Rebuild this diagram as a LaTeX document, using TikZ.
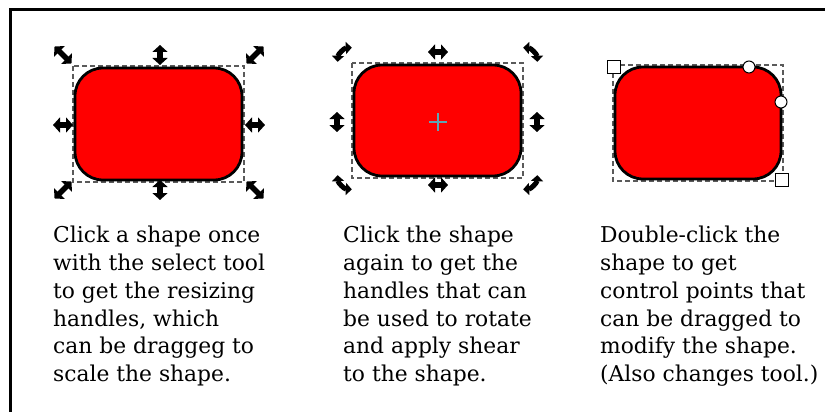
\documentclass[tikz,border=0pt]{standalone}
\usepackage{fontspec}
\setmainfont{DejaVu Serif}
\usetikzlibrary{arrows.meta}
\definecolor{crossc}{RGB}{95,165,180}
\definecolor{bboxc}{RGB}{90,90,90}
\tikzset{
  shapebox/.style={fill=red,draw=black,line width=2.8pt,rounded corners=28pt},
  selbox/.style={draw=bboxc,line width=1.2pt,dash pattern=on 5pt off 3pt},
  scalehandle/.style={line width=5.5pt,{Triangle[width=15pt,length=7pt]}-{Triangle[width=15pt,length=7pt]}},
  rothandle/.style={line width=5pt,{Triangle[width=12pt,length=6pt]}-{Triangle[width=12pt,length=6pt]}},
  ctrlsq/.style={draw=black,fill=white,line width=1pt,minimum size=13pt,inner sep=0pt,rectangle},
  ctrlci/.style={draw=black,fill=white,line width=1pt,minimum size=12pt,inner sep=0pt,circle},
  caption/.style={align=left,anchor=north west,inner sep=0pt,font=\fontsize{21.8}{27.8}\selectfont}
}
\begin{document}
\begin{tikzpicture}[x=1pt,y=-1pt]
\useasboundingbox (0,0) rectangle (825,412);
% frame
\draw[line width=3pt] (10,412) -- (10,10) -- (825,10);

% ---- shape 1 ----
\draw[selbox] (73,66) rectangle (244,182);
\draw[shapebox] (75,68) rectangle (242,180);
\foreach \x/\y/\a in {63/55/-45,255/55/45,63/190/45,255/190/-45}{
  \draw[scalehandle,rotate around={\a:(\x,\y)}] (\x-12,\y) -- (\x+12,\y);
}
\foreach \x/\y/\a in {160/55/90,160/190/90,63/125/0,255/125/0}{
  \draw[scalehandle,rotate around={\a:(\x,\y)}] (\x-10,\y) -- (\x+10,\y);
}

% ---- shape 2 ----
\draw[selbox] (352,63) rectangle (523,178);
\draw[shapebox] (354,65) rectangle (521,176);
\draw[crossc,line width=1.5pt] (429,122) -- (447,122) (438,113) -- (438,131);
\foreach \x/\y in {438/52,438/185}{
  \draw[scalehandle] (\x-10,\y) -- (\x+10,\y);
}
\foreach \x/\y in {337/122,537/122}{
  \draw[scalehandle] (\x,\y-10) -- (\x,\y+10);
}
% rotate handles (curved)
\foreach \x/\y/\a in {342/52/225,533/52/315,342/185/135,533/185/45}{
  \draw[rothandle] (\x,\y) ++(\a+180:15) ++(\a+42:15)
     arc[start angle=\a+42,end angle=\a-42,radius=15];
}

% ---- shape 3 ----
\draw[selbox] (613,65) rectangle (783,181);
\draw[shapebox] (615,67) rectangle (781,179);
\node[ctrlsq] (sq1) at (614,67) {};
\node[ctrlsq] (sq2) at (782,180) {};
\node[ctrlci] (ci1) at (749,67) {};
\node[ctrlci] (ci2) at (781,102) {};

% ---- captions ----
\node[caption] (t1) at (53,226) {Click a shape once\\with the select tool\\to get the resizing\\handles, which\\can be draggeg to\\scale the shape.};
\node[caption] (t2) at (343,226) {Click the shape\\again to get the\\handles that can\\be used to rotate\\and apply shear\\to the shape.};
\node[caption] (t3) at (600,226) {Double-click the\\shape to get\\control points that\\can be dragged to\\modify the shape.\\(Also changes tool.)};
\end{tikzpicture}
\end{document}
